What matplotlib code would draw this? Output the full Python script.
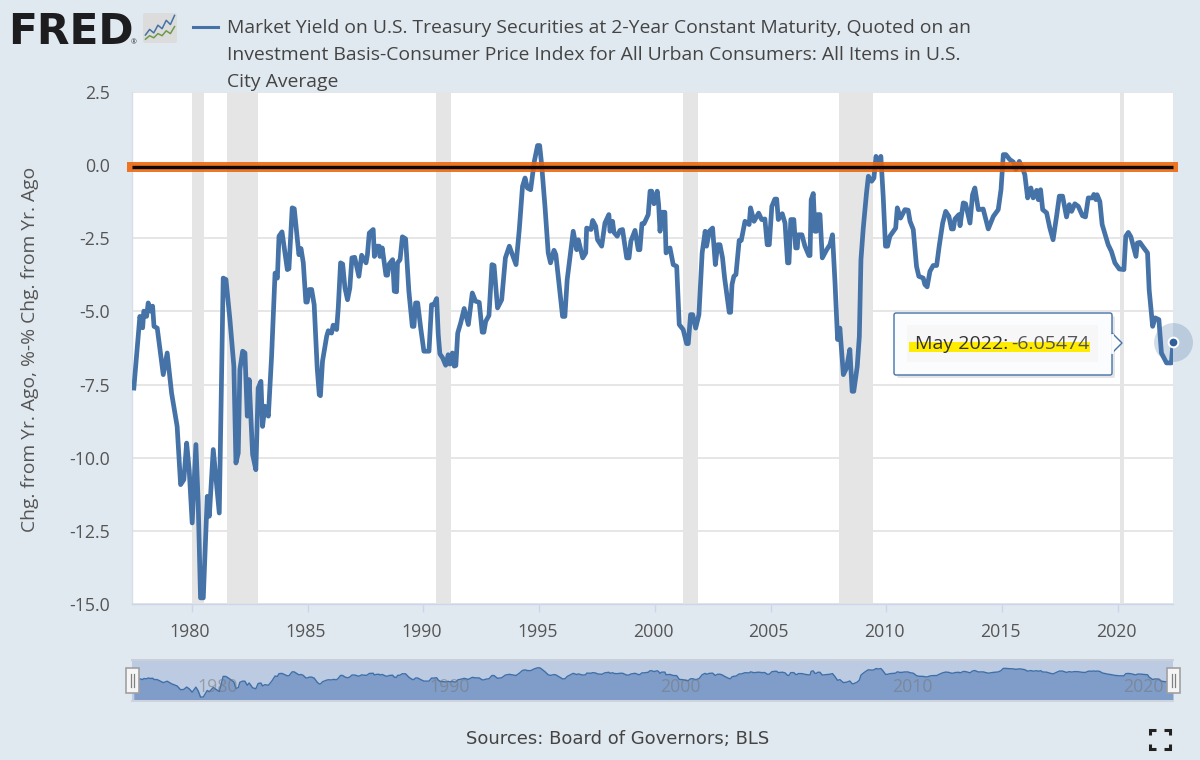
import matplotlib
matplotlib.use("Agg")
import matplotlib.pyplot as plt
from matplotlib.lines import Line2D
from matplotlib.patches import Rectangle, Polygon, FancyBboxPatch
from matplotlib.transforms import blended_transform_factory, ScaledTranslation

W, H = 1200, 760

# ---------- data ----------
years_a = [1977.49,1977.75,1977.87,1977.92,1978.04,1978.11,1978.21,1978.30,1978.36,1978.50,1978.76,1978.93,1979.12,1979.36,1979.51,1979.65,1979.77,1979.88,1980.01,1980.17,1980.27,1980.37,1980.49,1980.66,1980.75,1980.92,1981.03,1981.18,1981.35,1981.47,1981.64,1981.81,1981.90,1982.00,1982.07,1982.19,1982.29,1982.39,1982.47,1982.62,1982.76,1982.86,1982.98,1983.05,1983.15,1983.30,1983.44,1983.59,1983.69,1983.76,1983.89,1984.12,1984.19,1984.33,1984.42,1984.62,1984.71,1984.81,1984.92,1984.98,1985.07,1985.17,1985.28,1985.41,1985.50,1985.55,1985.64,1985.82,1985.89,1986.03,1986.10,1986.25,1986.32,1986.42,1986.51,1986.61,1986.72,1986.82,1986.91,1987.03,1987.21,1987.33,1987.52,1987.58,1987.66,1987.83,1987.88,1987.98,1988.09,1988.12,1988.22,1988.38,1988.45,1988.52,1988.67,1988.74,1988.84,1988.88,1988.99,1989.09,1989.23,1989.37,1989.52,1989.59,1989.66,1989.75,1989.88]
values_a = [-7.62,-5.17,-5.56,-4.99,-5.17,-4.71,-4.99,-4.82,-5.51,-5.57,-7.16,-6.42,-7.79,-8.93,-10.92,-10.75,-9.50,-10.41,-12.23,-9.55,-11.55,-14.79,-14.79,-11.32,-12.00,-9.72,-10.63,-11.89,-3.86,-3.91,-5.28,-6.87,-10.18,-9.84,-6.99,-6.36,-6.42,-8.58,-7.33,-9.89,-10.41,-7.62,-7.39,-8.93,-8.24,-8.58,-6.53,-3.69,-3.86,-2.43,-2.28,-3.57,-3.54,-1.46,-1.49,-3.06,-2.85,-3.34,-4.68,-4.68,-4.25,-4.25,-4.77,-6.93,-7.85,-7.88,-6.70,-5.85,-5.66,-5.74,-5.47,-5.62,-4.88,-3.34,-3.38,-4.20,-4.60,-4.20,-3.17,-3.15,-3.80,-3.08,-3.34,-3.06,-2.32,-2.20,-3.12,-2.77,-2.77,-3.12,-2.83,-3.76,-3.76,-3.38,-3.23,-4.31,-4.33,-3.34,-3.23,-2.45,-2.52,-4.31,-5.51,-5.51,-4.71,-4.71,-5.56]

years_b = [1990.02,1990.24,1990.35,1990.45,1990.57,1990.64,1990.71,1990.83,1990.96,1991.07,1991.14,1991.25,1991.33,1991.40,1991.48,1991.61,1991.76,1991.94,1992.11,1992.25,1992.41,1992.54,1992.61,1992.69,1992.83,1992.96,1993.05,1993.20,1993.38,1993.54,1993.71,1994.00,1994.14,1994.28,1994.39,1994.49,1994.63,1994.79,1994.93,1995.02,1995.10,1995.25,1995.39,1995.49,1995.64,1995.72,1995.87,1996.01,1996.11,1996.21,1996.47,1996.62,1996.69,1996.88,1997.01,1997.05,1997.24,1997.31,1997.44,1997.52,1997.70,1997.84,1998.01,1998.06,1998.17,1998.23,1998.37,1998.49,1998.60,1998.78,1998.88,1998.96,1999.14,1999.28,1999.35,1999.44,1999.53,1999.71,1999.79,1999.86,1999.96]
values_b = [-6.36,-6.36,-4.77,-4.77,-4.56,-5.79,-6.45,-6.59,-6.84,-6.48,-6.80,-6.42,-6.87,-6.85,-5.74,-5.39,-4.90,-5.45,-4.37,-4.65,-4.69,-5.71,-5.71,-5.34,-5.14,-3.40,-3.43,-4.88,-4.60,-3.17,-2.77,-3.40,-2.20,-0.72,-0.44,-0.78,-0.84,0.13,0.67,0.67,0.07,-1.41,-3.00,-3.34,-2.91,-3.06,-4.14,-5.17,-5.17,-3.91,-2.26,-2.89,-2.55,-3.17,-3.00,-2.15,-2.20,-1.89,-2.09,-2.55,-2.77,-1.98,-1.69,-2.26,-1.92,-2.30,-2.43,-2.23,-2.20,-3.17,-3.17,-2.60,-2.23,-2.89,-2.89,-2.00,-2.00,-1.69,-0.89,-0.89,-1.32]

years_c = [2000.10,2000.16,2000.22,2000.29,2000.43,2000.48,2000.65,2000.79,2000.94,2001.05,2001.22,2001.37,2001.44,2001.54,2001.63,2001.76,2001.90,2002.04,2002.17,2002.23,2002.35,2002.49,2002.61,2002.71,2002.81,2002.92,2003.01,2003.21,2003.27,2003.33,2003.41,2003.50,2003.64,2003.73,2003.89,2004.07,2004.13,2004.28,2004.48,2004.61,2004.75,2004.85,2004.94,2005.05,2005.18,2005.26,2005.33,2005.50,2005.62,2005.73,2005.79,2005.87,2006.00,2006.08,2006.15,2006.19,2006.35,2006.48,2006.65,2006.70,2006.75,2006.84,2006.91,2006.98,2007.03,2007.13,2007.23,2007.42,2007.56,2007.67,2007.78,2007.89,2007.99,2008.14,2008.28,2008.42,2008.52,2008.59,2008.74,2008.83,2008.90,2009.00,2009.14,2009.22,2009.36,2009.46,2009.55,2009.65,2009.76,2009.86,2009.96]
values_c = [-0.89,-1.35,-2.26,-1.61,-1.61,-3.00,-2.83,-3.40,-3.46,-5.45,-5.62,-6.10,-6.10,-5.11,-5.11,-5.57,-5.11,-3.00,-2.26,-2.77,-2.26,-2.15,-3.40,-2.72,-2.72,-3.17,-3.86,-5.03,-5.03,-4.08,-3.80,-3.74,-2.57,-2.57,-1.92,-2.03,-1.46,-1.92,-1.64,-1.86,-1.84,-2.72,-2.72,-1.41,-1.16,-1.16,-1.86,-1.66,-1.98,-3.34,-3.34,-1.86,-1.86,-2.83,-2.83,-2.38,-2.38,-2.77,-3.09,-3.09,-1.18,-0.97,-2.26,-2.26,-1.69,-1.69,-3.17,-2.89,-2.72,-2.38,-4.03,-5.96,-5.57,-7.16,-6.93,-6.30,-7.73,-7.73,-6.88,-5.85,-3.23,-2.15,-0.95,-0.38,-0.55,-0.44,0.30,0.02,0.30,-1.06,-2.77]

years_d = [2010.05,2010.15,2010.30,2010.40,2010.47,2010.61,2010.80,2010.94,2011.02,2011.16,2011.30,2011.40,2011.59,2011.66,2011.76,2011.88,2012.02,2012.17,2012.28,2012.43,2012.56,2012.70,2012.81,2012.89,2012.96,2013.13,2013.18,2013.32,2013.42,2013.61,2013.72,2013.82,2013.97,2014.18,2014.40,2014.62,2014.83,2014.95,2015.05,2015.16,2015.33,2015.48,2015.59,2015.74,2015.88,2015.98,2016.10,2016.24,2016.34,2016.49,2016.56,2016.66,2016.75,2016.92,2017.06,2017.20,2017.35,2017.47,2017.61,2017.78,2017.90,2018.00,2018.14,2018.29,2018.47,2018.60,2018.72,2018.90,2018.96,2019.05,2019.10,2019.22,2019.32,2019.58,2019.72,2019.87,2020.06,2020.26,2020.34,2020.45,2020.56,2020.78,2020.84,2020.95,2021.12,2021.28,2021.35,2021.50,2021.61,2021.77,2021.88,2022.10,2022.31,2022.38]
values_d = [-2.77,-2.43,-2.26,-2.15,-1.46,-1.81,-1.52,-1.54,-1.92,-2.20,-3.46,-3.80,-3.86,-4.08,-4.16,-3.63,-3.43,-3.43,-2.77,-1.98,-1.58,-1.75,-2.18,-2.18,-1.84,-1.69,-2.07,-1.29,-1.32,-1.98,-1.01,-0.78,-1.52,-1.50,-2.18,-1.75,-1.52,-0.84,0.36,0.36,0.19,0.11,-0.15,0.13,-0.10,-0.33,-1.12,-0.78,-1.12,-0.86,-1.18,-0.84,-1.52,-1.63,-2.15,-2.55,-1.75,-1.06,-1.06,-1.77,-1.35,-1.58,-1.32,-1.41,-1.73,-1.77,-1.12,-1.12,-1.00,-1.18,-1.01,-1.24,-2.03,-2.72,-2.95,-3.34,-3.55,-3.57,-2.43,-2.30,-2.45,-3.12,-2.66,-2.64,-2.83,-3.00,-4.26,-5.51,-5.22,-5.28,-6.42,-6.76,-6.76,-6.05]

recession_starts = [1980.0, 1981.5, 1990.55, 2001.2, 2007.95, 2020.1]
recession_ends = [1980.5, 1982.85, 1991.17, 2001.87, 2009.43, 2020.25]
x_ticks = [1980, 1985, 1990, 1995, 2000, 2005, 2010, 2015, 2020]
y_ticks = [2.5, 0.0, -2.5, -5.0, -7.5, -10.0, -12.5, -15.0]
nav_labels = [1980, 1990, 2000, 2010, 2020]
logo_blue = [1.0, 1.8, 1.3, 2.4, 1.9, 3.1, 2.5, 3.8]
logo_green = [0.4, 0.9, 0.6, 1.2, 0.9, 1.6, 1.2, 2.2]

title_lines = ["Market Yield on U.S. Treasury Securities at 2-Year Constant Maturity, Quoted on an",
               "Investment Basis-Consumer Price Index for All Urban Consumers: All Items in U.S.",
               "City Average"]
y_label = "Chg. from Yr. Ago, %-% Chg. from Yr. Ago"
source_text = "Sources: Board of Governors; BLS"
tip_date = "May 2022:"
tip_value = "-6.05474"

years = years_a + years_b + years_c + years_d
values = values_a + values_b + values_c + values_d

# ---------- style ----------
BG = "#e1e9f0"
BLUE = "#4572a7"
plt.rcParams["font.family"] = ["Open Sans", "DejaVu Sans"]
fig = plt.figure(figsize=(W / 100, H / 100), dpi=100, facecolor=BG)

def fx(px): return px / W
def fy(py): return 1 - py / H
def axes_px(l, t, r, b):
    return fig.add_axes([fx(l), fy(b), (r - l) / W, (b - t) / H])

# ---------- main chart ----------
ax = axes_px(132, 92, 1173, 604)
ax.set_xlim(1977.41, 2022.38)
ax.set_ylim(-15, 2.5)
ax.set_facecolor("white")
for s in ("top", "right"):
    ax.spines[s].set_visible(False)
ax.spines["left"].set_color("#d5deea")
ax.spines["left"].set_linewidth(1)
ax.spines["bottom"].set_color("#ccd6eb")
ax.spines["bottom"].set_linewidth(1)
ax.set_yticks(y_ticks)
ax.set_yticklabels([f"{v:.1f}" for v in y_ticks], fontsize=12.8, color="#555555")
ax.set_xticks(x_ticks)
ax.set_xticklabels([str(v) for v in x_ticks], fontsize=12.8, color="#555555")
ax.tick_params(axis="y", length=0, pad=16)
ax.tick_params(axis="x", length=6, color="#ccd6eb", pad=8, width=1)
shift = ScaledTranslation(-2 / 100, 0, fig.dpi_scale_trans)
for lab in ax.get_xticklabels():
    lab.set_transform(lab.get_transform() + shift)
ax.grid(axis="y", color="#e6e6e6", lw=1.4, zorder=0)
ax.set_axisbelow(True)
for a, b in zip(recession_starts, recession_ends):
    ax.axvspan(a, b, color="#e5e5e5", lw=0, zorder=1)
ax.plot(years, values, color=BLUE, lw=3.4, solid_joinstyle="round", zorder=3)

# orange/black annotation line across the plot
tr = blended_transform_factory(fig.transFigure, ax.transData)
ax.add_line(Line2D([fx(127), fx(1178)], [-0.08, -0.08], transform=tr, color="#ee6408", alpha=0.88,
                   lw=7.2, solid_capstyle="butt", clip_on=False, zorder=4))
ax.add_line(Line2D([fx(132), fx(1173)], [-0.08, -0.08], transform=tr, color="#0a0a0a",
                   lw=2.4, solid_capstyle="butt", clip_on=False, zorder=5))

# hover marker
ax.plot([years[-1]], [values[-1]], "o", ms=28, mfc=BLUE, mec="none", alpha=0.25, clip_on=False, zorder=6)
ax.plot([years[-1]], [values[-1]], "o", ms=7, mfc="#2f5f9a", mec="white", mew=1.4, clip_on=False, zorder=7)

fig.text(fx(30), fy(349), y_label, rotation=90, ha="center", va="center", fontsize=13.9, color="#555555")

# ---------- overlay in pixel space ----------
ov = fig.add_axes([0, 0, 1, 1], zorder=10)
ov.set_xlim(0, W)
ov.set_ylim(H, 0)
ov.axis("off")
ov.patch.set_alpha(0)

# tooltip
ov.add_patch(FancyBboxPatch((897, 316), 218, 62, boxstyle="round,pad=0,rounding_size=2", fc="#000000", ec="none", alpha=0.10))
ov.add_patch(FancyBboxPatch((894, 313), 218, 62, boxstyle="round,pad=0,rounding_size=2", fc="#fbfcfe", ec=BLUE, lw=1.0))
ov.add_patch(Polygon([(1112, 333), (1122, 343), (1112, 353)], closed=False, fc="#fbfcfe", ec=BLUE, lw=1.0))
ov.add_line(Line2D([1112, 1112], [334.5, 351.5], color="#fbfcfe", lw=2))
ov.add_patch(Rectangle((907, 325), 191, 37, fc="#f7f7f7", ec="none"))
ov.add_patch(Rectangle((909, 342), 181, 10, fc="#ffec00", ec="none"))
ov.text(915, 344, tip_date, fontsize=14, color="#333333", va="center", ha="left")
ov.text(1090, 344, tip_value, fontsize=14, color="#555555", va="center", ha="right")

# title and legend key
ov.add_line(Line2D([193, 218], [27, 27], color=BLUE, lw=2.2))
for txt, yc in zip(title_lines, [28, 55, 82]):
    ov.text(227, yc, txt, fontsize=13.95, color="#444444", va="center", ha="left")

# FRED logo
ov.text(8, 44, "FRED", fontsize=30.5, family="DejaVu Sans", fontweight="bold", color="#1d1d1f", va="baseline", ha="left")
ov.text(134, 43, "®", fontsize=5, color="#333333", va="center", ha="center")
ov.add_patch(FancyBboxPatch((143, 13), 34, 30, boxstyle="round,pad=0,rounding_size=2", fc="#dcdcdc", ec="none"))
icon = fig.add_axes([fx(144), fy(42), 32 / W, 28 / H], zorder=11)
icon.axis("off")
icon.patch.set_alpha(0)
icon.plot(logo_blue, color=BLUE, lw=1.1)
icon.plot(logo_green, color="#6f9a4c", lw=1.1)
icon.set_ylim(0, 4)

# source and fullscreen icon
ov.text(617.5, 739, source_text, fontsize=13, family="DejaVu Sans", color="#444444", ha="center", va="center")
for cx, cy, dx, dy in [(1150, 730, 1, 1), (1170, 730, -1, 1), (1150, 749, 1, -1), (1170, 749, -1, -1)]:
    ov.add_line(Line2D([cx + 6 * dx, cx, cx], [cy, cy, cy + 5 * dy], color="#222222", lw=2.2,
                       solid_joinstyle="miter", solid_capstyle="butt"))

# ---------- navigator ----------
nav = axes_px(132, 660, 1173, 700)
nav.set_xlim(1977.41, 2022.38)
nav.set_ylim(-16.35, 4.8)
nav.set_facecolor("#bccbe2")
nav.set_xticks([])
nav.set_yticks([])
for s in nav.spines.values():
    s.set_visible(False)
nav.fill_between(years, values, -16.35, color="#7f9dc8", lw=0, zorder=2)
nav.plot(years, values, color="#3f6fa8", lw=1.0, zorder=3)
for yr in nav_labels:
    nav.text(yr + 1.12, -9.4, str(yr), fontsize=12.8, color="#777777", alpha=0.55, ha="center", va="center", zorder=4)

ov.add_patch(Rectangle((131, 659), 1043, 1.5, fc="#c9cfd8", ec="none"))
ov.add_patch(Rectangle((131, 700), 1043, 1.5, fc="#cdd4dd", ec="none"))
for left in (126, 1167):
    ov.add_patch(Rectangle((left, 668), 13, 24.5, fc="#f5f5f5", ec="#a0a0a0", lw=1.2))
    for off in (5, 8):
        ov.add_line(Line2D([left + off, left + off], [674, 687], color="#808080", lw=0.9))

fig.savefig("out.png", dpi=100, facecolor=BG)
